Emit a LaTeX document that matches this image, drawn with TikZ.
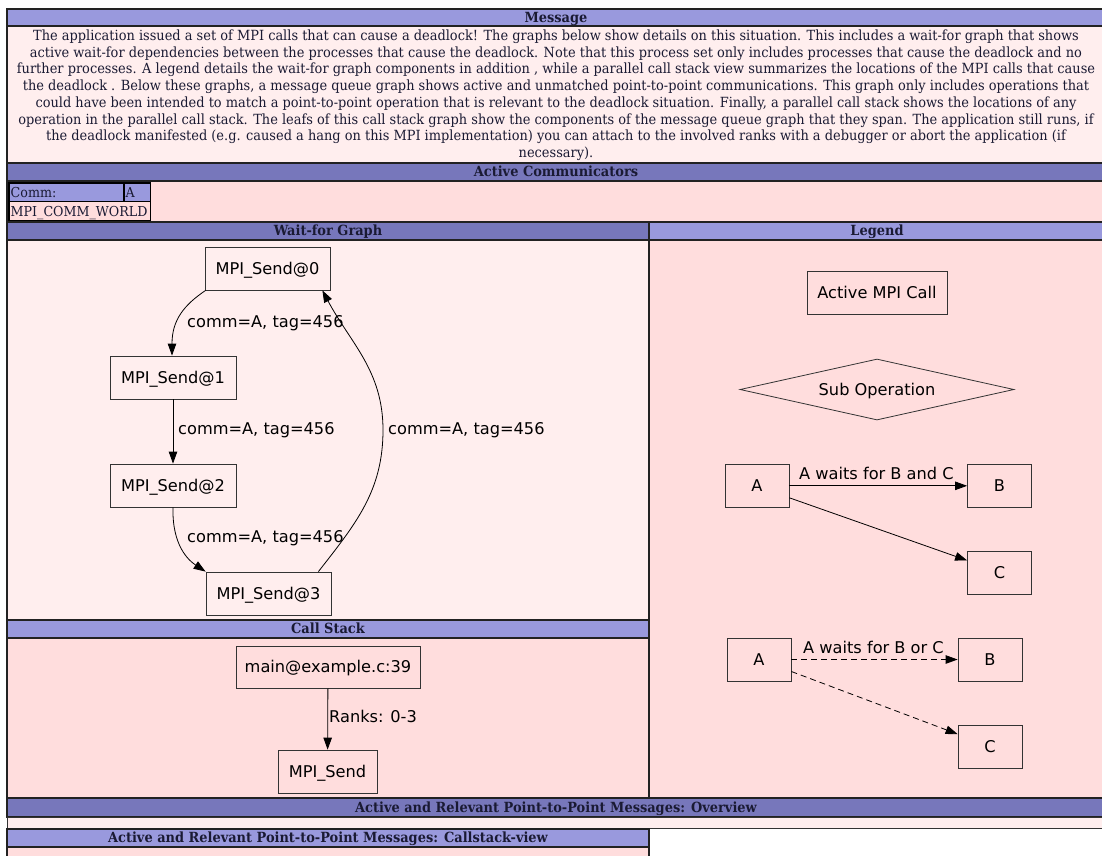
\documentclass[tikz,border=0pt]{standalone}
\usepackage{fontspec}
\setmainfont{DejaVu Serif}[FakeStretch=0.925]
\newfontfamily\gvfont{DejaVu Sans}
\usetikzlibrary{shapes.geometric,arrows.meta}
\definecolor{hdrA}{HTML}{9999DD}
\definecolor{hdrB}{HTML}{7777BB}
\definecolor{bodyA}{HTML}{FFEEEE}
\definecolor{bodyB}{HTML}{FFDDDD}
\definecolor{rulec}{HTML}{222222}
\definecolor{gvline}{HTML}{333333}
\definecolor{hdrink}{HTML}{1A1A33}
\begin{document}
\begin{tikzpicture}[x=1pt,y=-1pt,
  cell/.style={draw=rulec, line width=1.3pt},
  icell/.style={draw=black, line width=1.8pt},
  hdrtext/.style={font=\fontsize{14}{14}\selectfont\bfseries, text=hdrink, inner sep=0, anchor=base},
  celltext/.style={font=\fontsize{13.7}{13.7}\selectfont, text=hdrink, inner sep=0, anchor=base west},
  gvbox/.style={draw=gvline, line width=0.8pt, rectangle, inner sep=0,
    font=\gvfont\fontsize{16.2}{16.2}\selectfont, text height=11.8pt, text depth=0pt, minimum height=43pt},
  gvdia/.style={gvbox, diamond, aspect=4.5},
  gvlabel/.style={font=\gvfont\fontsize{16.2}{16.2}\selectfont, text height=11.8pt, text depth=0pt, inner sep=0, anchor=west},
  gvedge/.style={draw=black, line width=0.8pt, -{Triangle[length=12pt,width=8.5pt]}},
  gvdash/.style={gvedge, dash pattern=on 6pt off 4pt}
]
\useasboundingbox (0,0) rectangle (1102,855);
\fill[white] (0,0) rectangle (1102,855);

% ---- Message
\draw[cell, fill=hdrA] (7,9) rectangle (1106,26);
\node[hdrtext] (hmsg) at (556,22) {Message};
\draw[cell, fill=bodyA] (7,26) rectangle (1106,163);
\node[anchor=north, align=center, inner sep=0, text=hdrink,
  font=\fontsize{14}{16.75}\selectfont] (msg) at (556,29.5) {%
The application issued a set of MPI calls that can cause a deadlock! The graphs below show details on this situation. This includes a wait-for graph that shows\\
active wait-for dependencies between the processes that cause the deadlock. Note that this process set only includes processes that cause the deadlock and no\\
further processes. A legend details the wait-for graph components in addition , while a parallel call stack view summarizes the locations of the MPI calls that cause\\
the deadlock . Below these graphs, a message queue graph shows active and unmatched point-to-point communications. This graph only includes operations that\\
could have been intended to match a point-to-point operation that is relevant to the deadlock situation. Finally, a parallel call stack shows the locations of any\\
operation in the parallel call stack. The leafs of this call stack graph show the components of the message queue graph that they span. The application still runs, if\\
the deadlock manifested (e.g. caused a hang on this MPI implementation) you can attach to the involved ranks with a debugger or abort the application (if\\
necessary).};

% ---- Active Communicators
\draw[cell, fill=hdrB] (7,163) rectangle (1106,181);
\node[hdrtext] (hcomm) at (556,176) {Active Communicators};
\draw[cell, fill=bodyB] (7,181) rectangle (1106,221.5);
\draw[icell, fill=hdrA] (9,183) rectangle (124,201.5);
\draw[icell, fill=hdrA] (124,183) rectangle (150.5,201.5);
\draw[icell, fill=bodyB] (9,201.5) rectangle (150.5,220.5);
\node[celltext] (tcomm) at (10.5,197) {Comm:};
\node[celltext] (tA) at (125.5,197) {A};
\node[celltext] (tworld) at (10.5,216) {MPI\_COMM\_WORLD};

% ---- Wait-for Graph / Legend
\draw[cell, fill=hdrB] (7,222) rectangle (649,240);
\node[hdrtext] (hwait) at (328,235) {Wait-for Graph};
\draw[cell, fill=bodyA] (7,240) rectangle (649,620);
\draw[cell, fill=hdrA] (649,222) rectangle (1106,240);
\node[hdrtext] (hleg) at (877,235) {Legend};
\draw[cell, fill=bodyB] (649,240) rectangle (1106,798);

% ---- Call Stack
\draw[cell, fill=hdrA] (7,620) rectangle (649,638);
\node[hdrtext] (hcs) at (328,633) {Call Stack};
\draw[cell, fill=bodyB] (7,638) rectangle (649,798);

% ---- Overview
\draw[cell, fill=hdrB] (7,798) rectangle (1106,817);
\node[hdrtext] (hov) at (556,812) {Active and Relevant Point-to-Point Messages: Overview};
\draw[draw=gvline, line width=0.8pt, fill=bodyA] (7,817) rectangle (1106,828);

% ---- Callstack-view
\draw[cell, fill=hdrA] (7,829) rectangle (649,847);
\node[hdrtext] (hcv) at (328,842) {Active and Relevant Point-to-Point Messages: Callstack-view};
\draw[cell, fill=bodyB] (7,847) rectangle (649,862);

% ---- Wait-for graph nodes
\node[gvbox, minimum width=125pt] (n0) at (267.5,268.5) {MPI\_Send@0};
\node[gvbox, minimum width=126pt] (n1) at (173,377.5) {MPI\_Send@1};
\node[gvbox, minimum width=126pt] (n2) at (173,485.5) {MPI\_Send@2};
\node[gvbox, minimum width=125pt] (n3) at (268.5,593.5) {MPI\_Send@3};
\coordinate (bend) at (383,430);

\draw[gvedge] ([xshift=1pt]n0.south west) .. controls (184,305) and (172,320) .. ([xshift=-1pt]n1.north);
\draw[gvedge] (n1) -- (n2);
\draw[gvedge] (n2.south) .. controls (172,545) and (188,560) .. (n3.north west);
\draw[gvedge] ([xshift=-13pt]n3.north east) to[out=52,in=-90] (bend) to[out=90,in=-62] ([xshift=-8pt]n0.south east);

\node[gvlabel] (l01) at (187,322) {comm=A, tag=456};
\node[gvlabel] (l12) at (178,429) {comm=A, tag=456};
\node[gvlabel] (l23) at (187,537) {comm=A, tag=456};
\node[gvlabel] (l30) at (388,429) {comm=A, tag=456};

% ---- Call stack graph
\node[gvbox, minimum width=184pt, minimum height=42pt] (cs1) at (328,667) {main@example.c:39};
\node[gvbox, minimum width=99pt] (cs2) at (327.5,771.5) {MPI\_Send};
\draw[gvedge] (cs1) -- (cs2);
\node[gvlabel] (lcs) at (329,717) {Ranks: 0-3};

% ---- Legend graph
\node[gvbox, minimum width=140pt] (act) at (877,292.5) {Active MPI Call};
\node[gvdia, minimum width=274pt, minimum height=61pt] (sub) at (877,389.5) {Sub Operation};

\node[gvbox, minimum width=64pt] (a1) at (757,485.8) {A};
\node[gvbox, minimum width=64pt] (b1) at (999.5,485.8) {B};
\node[gvbox, minimum width=64pt] (c1) at (999.5,572.8) {C};
\draw[gvedge] (a1) -- (b1);
\draw[gvedge] ([yshift=-12pt]a1.east) -- ([yshift=-9.5pt]c1.north west);
\node[gvlabel] (lab1) at (799,474) {A waits for B and C};

\node[gvbox, minimum width=64pt] (a2) at (759,659.5) {A};
\node[gvbox, minimum width=64pt] (b2) at (990,659.5) {B};
\node[gvbox, minimum width=64pt] (c2) at (990,746.5) {C};
\draw[gvdash] (a2) -- (b2);
\draw[gvdash] ([yshift=-12pt]a2.east) -- ([yshift=-9.5pt]c2.north west);
\node[gvlabel] (lab2) at (803,648) {A waits for B or C};
\end{tikzpicture}
\end{document}
